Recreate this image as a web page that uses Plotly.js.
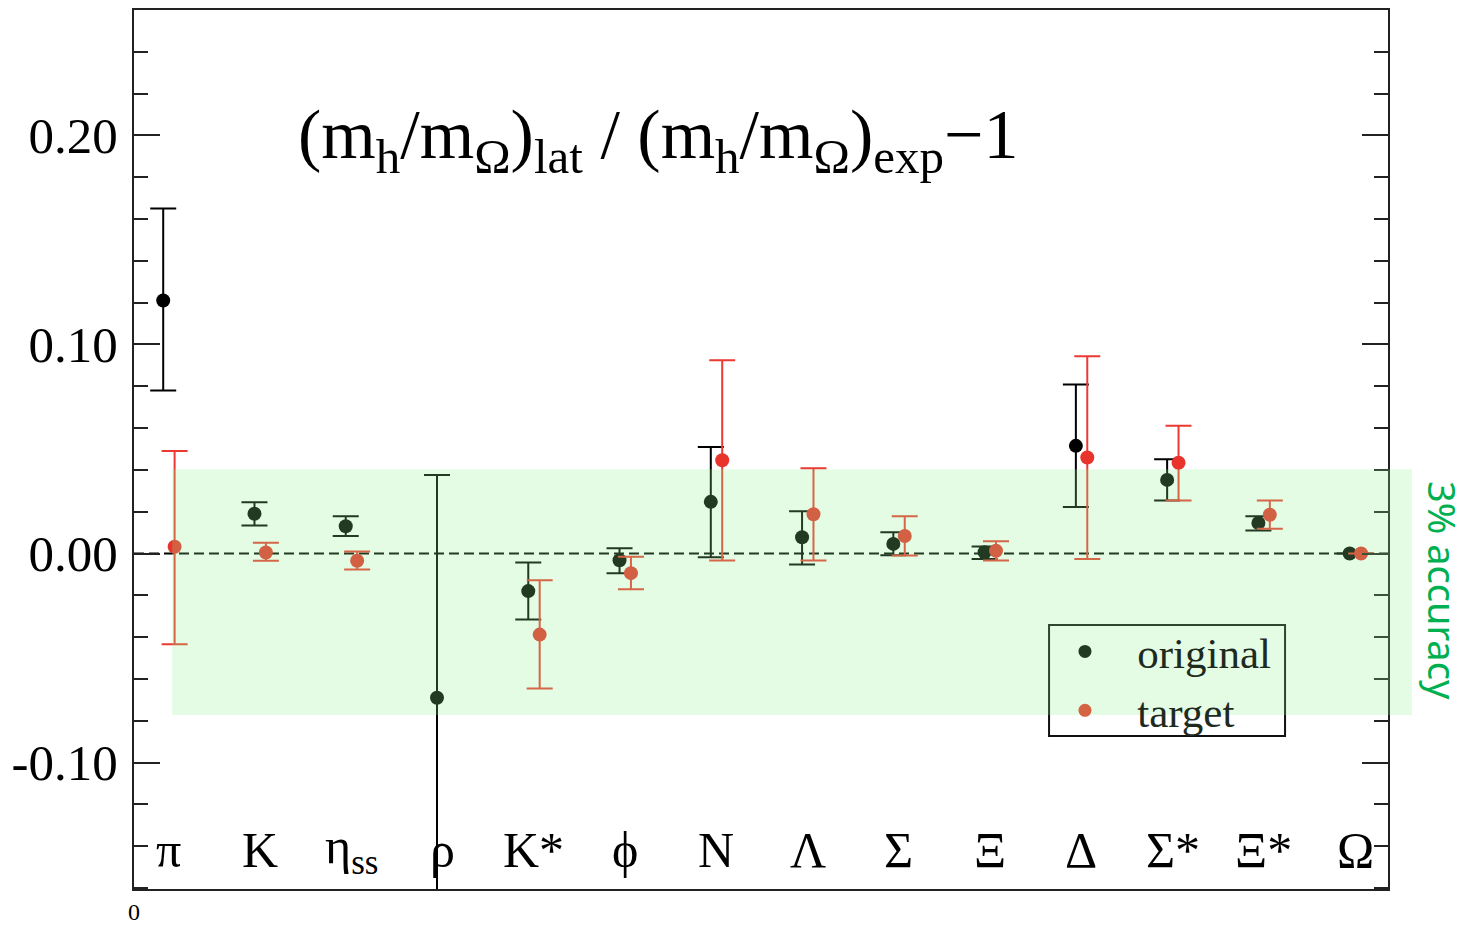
<!DOCTYPE html>
<html>
<head>
<meta charset="utf-8">
<script src="https://cdn.plot.ly/plotly-3.0.1.min.js"></script>
<style>html,body{margin:0;padding:0;background:#fff;}#chart{width:1469px;height:925px;}</style>
</head>
<body>
<div id="chart"></div>
<script>
// Hadron labels (HTML for Plotly text)
const categories = ["π", "K", "η<sub>ss</sub>", "ρ", "K*", "ϕ", "N", "Λ", "Σ", "Ξ", "Δ", "Σ*", "Ξ*", "Ω"];

// "original" series: central value, upper and lower end of error bar
const originalValue = [0.121, 0.019, 0.013, -0.069, -0.018, -0.0032, 0.0247, 0.0078, 0.0046, 0.0006, 0.0515, 0.0352, 0.0146, 0.0];
const originalUpper = [0.165, 0.0245, 0.0178, 0.0375, -0.0043, 0.0025, 0.0509, 0.0202, 0.0102, 0.0033, 0.0809, 0.0451, 0.0178, null];
const originalLower = [0.078, 0.0134, 0.0084, -0.175, -0.0316, -0.0094, -0.0018, -0.0053, -0.0008, -0.0026, 0.0222, 0.0254, 0.011, null];

// "target" series
const targetValue = [0.0032, 0.0005, -0.0035, null, -0.0388, -0.0094, 0.0446, 0.0188, 0.0084, 0.0013, 0.0459, 0.0434, 0.0185, 0.0];
const targetUpper = [0.049, 0.0051, 0.001, null, -0.0128, -0.0016, 0.0925, 0.0408, 0.0178, 0.0059, 0.0944, 0.0611, 0.0254, null];
const targetLower = [-0.0434, -0.0035, -0.0077, null, -0.0646, -0.0171, -0.0034, -0.0034, -0.001, -0.0034, -0.0026, 0.0254, 0.0118, null];

// band of "3% accuracy"
const bandTop = 0.0403;
const bandBottom = -0.0773;

// y-axis ticks
const yTickVals = [-0.1, 0.0, 0.1, 0.2];
const yTickText = ["-0.10", "0.00", "0.10", "0.20"];

const SERIF = "Liberation Serif, Times New Roman, DejaVu Serif, serif";

const idx = categories.map((_, i) => i);
const xOrig = idx.map(i => i + 0.32);
const xTarg = idx.map(i => i + 0.445);
const xLab = idx.map(i => i + 0.38);

function plus(v, u) { return v.map((val, i) => (val === null || u[i] === null) ? null : u[i] - val); }
function minus(v, l) { return v.map((val, i) => (val === null || l[i] === null) ? null : val - l[i]); }

const traces = [
  {
    type: "scatter", mode: "markers", name: "original", showlegend: false,
    x: xOrig, y: originalValue,
    marker: {color: "#000000", size: 14},
    error_y: {type: "data", symmetric: false, array: plus(originalValue, originalUpper),
              arrayminus: minus(originalValue, originalLower), color: "#000000", thickness: 2, width: 13}
  },
  {
    type: "scatter", mode: "markers", name: "target", showlegend: false,
    x: xTarg, y: targetValue,
    marker: {color: "#e8342c", size: 14},
    error_y: {type: "data", symmetric: false, array: plus(targetValue, targetUpper),
              arrayminus: minus(targetValue, targetLower), color: "#ec3a33", thickness: 2, width: 13}
  },
  // legend entries (colours as seen through the green band)
  {type: "scatter", mode: "markers", name: "\u00a0\u00a0\u00a0original", x: [null], y: [null],
   marker: {color: "rgb(34,58,34)", size: 13}, showlegend: true},
  {type: "scatter", mode: "markers", name: "\u00a0\u00a0\u00a0target", x: [null], y: [null],
   marker: {color: "rgb(212,100,66)", size: 13}, showlegend: true}
];

const annotations = categories.map((c, i) => ({
  x: xLab[i], y: -0.142, xref: "x", yref: "y", text: c, showarrow: false,
  xanchor: "center", yanchor: "middle", font: {family: SERIF, size: 50, color: "#000"}
}));
annotations.push({
  xref: "paper", yref: "paper", x: 0.418, y: 0.852, showarrow: false,
  text: "(m<sub>h</sub>/m<sub>Ω</sub>)<sub>lat</sub> / (m<sub>h</sub>/m<sub>Ω</sub>)<sub>exp</sub>−1",
  font: {family: SERIF, size: 70, color: "#000"}, xanchor: "center", yanchor: "middle"
});
annotations.push({
  xref: "paper", yref: "paper", x: 1.044, y: 0.34, showarrow: false, textangle: 90,
  text: "3% accuracy", font: {family: "Noto Sans, Open Sans, sans-serif", size: 38, color: "#00b050"},
  xanchor: "center", yanchor: "middle"
});

const layout = {
  width: 1469, height: 925,
  margin: {l: 134, r: 81, t: 10, b: 36},
  paper_bgcolor: "#ffffff", plot_bgcolor: "#ffffff",
  showlegend: true,
  legend: {x: 0.7424, y: 0.3095, xanchor: "left", yanchor: "top",
           bgcolor: "rgba(0,0,0,0)", borderwidth: 0,
           font: {family: SERIF, size: 43, color: "#1e2a1e"}, tracegroupgap: 0},
  xaxis: {range: [0, 13.74], showgrid: false, zeroline: false, showline: true, mirror: true,
          linecolor: "#222", linewidth: 2, ticks: "", tickvals: [0], ticktext: ["0"],
          tickfont: {family: SERIF, size: 24, color: "#000"}, fixedrange: true},
  yaxis: {range: [-0.1605, 0.26], showgrid: false, zeroline: false, showline: true, mirror: "ticks",
          linecolor: "#222", linewidth: 2, ticks: "inside", ticklen: 26, tickwidth: 2, tickcolor: "#222",
          tickvals: yTickVals, ticktext: yTickText, ticklabelstandoff: 4,
          tickfont: {family: SERIF, size: 51, color: "#000"},
          minor: {dtick: 0.02, tick0: 0, ticks: "inside", ticklen: 14, tickwidth: 2, tickcolor: "#222", showgrid: false},
          fixedrange: true},
  shapes: [
    {type: "line", xref: "paper", yref: "y", x0: 0, x1: 1, y0: 0, y1: 0, layer: "below",
     line: {color: "#000", width: 2, dash: "10px,5px"}},
    // legend frame
    {type: "rect", xref: "paper", yref: "paper", x0: 0.7297, x1: 0.9179, y0: 0.174, y1: 0.3003,
     layer: "below", fillcolor: "rgba(0,0,0,0)", line: {color: "#111", width: 2}},
    {type: "rect", xref: "paper", yref: "y", x0: 0.0305, x1: 1.019, y0: bandBottom, y1: bandTop,
     layer: "above", fillcolor: "rgba(141,242,141,0.24)", line: {width: 0}}
  ],
  annotations: annotations
};

Plotly.newPlot("chart", traces, layout, {displayModeBar: false, staticPlot: true});
</script>
</body>
</html>
